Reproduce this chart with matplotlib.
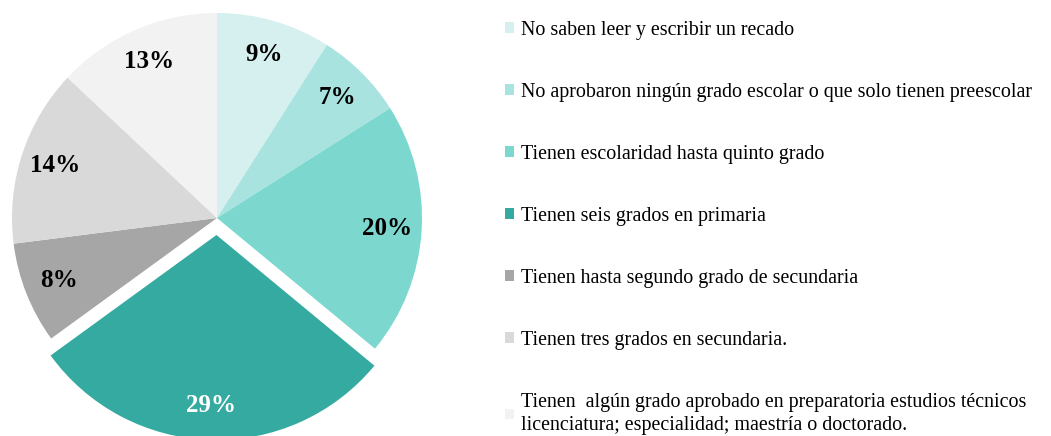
import matplotlib
matplotlib.use("Agg")
import matplotlib.pyplot as plt

# data
categories = [
    "No saben leer y escribir un recado",
    "No aprobaron ningún grado escolar o que solo tienen preescolar",
    "Tienen escolaridad hasta quinto grado",
    "Tienen seis grados en primaria",
    "Tienen hasta segundo grado de secundaria",
    "Tienen tres grados en secundaria.",
    "Tienen  algún grado aprobado en preparatoria estudios técnicos\n"
    "licenciatura; especialidad; maestría o doctorado.",
]
shares = [9, 7, 20, 29, 8, 14, 13]
colors = ["#D5F0EF", "#A8E3DF", "#7CD8CF", "#35AAA0", "#A6A6A6", "#D9D9D9", "#F2F2F2"]
label_colors = ["black", "black", "black", "white", "black", "black", "black"]

plt.rcParams["font.family"] = ["Liberation Serif", "DejaVu Serif"]

W, H = 1051, 436
R = 205
fig = plt.figure(figsize=(W / 100, H / 100), dpi=100)
ax = fig.add_axes([0, 0, 1, 1])

# pull out the largest slice (explode is in data units here)
explode = [17 if s == max(shares) else 0 for s in shares]

wedges, texts, autotexts = ax.pie(
    shares,
    colors=colors,
    explode=explode,
    startangle=90,
    counterclock=False,
    center=(217, H - 218),
    radius=R,
    autopct="%d%%",
    pctdistance=0.83,
    wedgeprops=dict(linewidth=0),
    textprops=dict(fontsize=18, fontweight="bold"),
)
for t, c in zip(autotexts, label_colors):
    t.set_color(c)

ax.set_xlim(0, W)
ax.set_ylim(0, H)
ax.set_aspect("equal")
ax.axis("off")

leg = ax.legend(
    wedges,
    categories,
    loc="upper left",
    bbox_to_anchor=(505 / W, 1 - 21 / H),
    frameon=False,
    fontsize=14.4,
    handlelength=0.45,
    handleheight=0.45,
    handletextpad=0.35,
    labelspacing=2.15,
    borderaxespad=0,
    borderpad=0,
)
leg.get_texts()[-1].set_linespacing(1.3)

fig.savefig("out.png", dpi=100)
